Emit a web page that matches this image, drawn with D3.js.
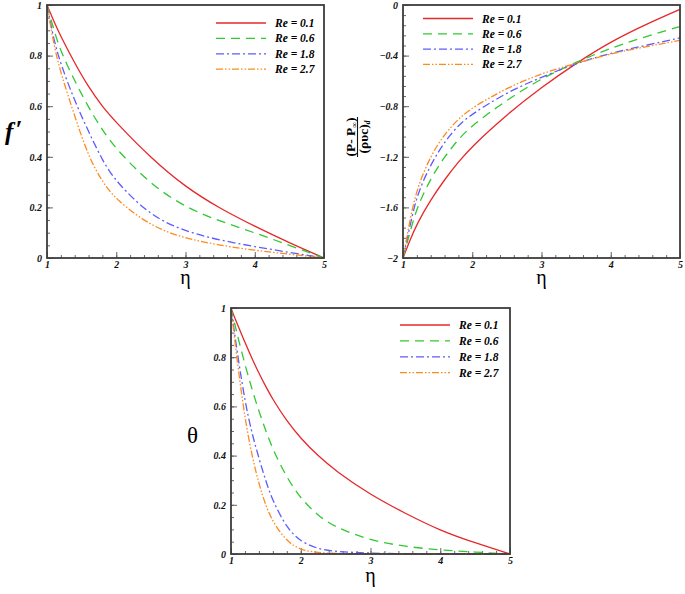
<!DOCTYPE html>
<html>
<head>
<meta charset="utf-8">
<script src="https://cdn.jsdelivr.net/npm/d3@7"></script>
<style>
  body { margin: 0; background: #fff; }
  .tick text { font-family: "Liberation Serif", serif; font-weight: bold; font-style: italic; font-size: 10px; fill: #111; }
  .tick line { stroke: #666; }
</style>
</head>
<body>
<div id="chart"></div>
<script>
// legend labels + styles
const reLabels = ["Re = 0.1", "Re = 0.6", "Re = 1.8", "Re = 2.7"];
const colors = ["#e6282b", "#30c930", "#5c5cff", "#ff8a1f"];
const dashes = [null, "9,6", "8,3,2,3", "7,2,1.5,2,1.5,2"];

// panel 1: f'
const etaF = [1, 1.1, 1.2, 1.4, 1.6, 1.8, 2, 2.5, 3, 3.5, 4, 4.5, 5];
const fRe01 = [1, 0.935, 0.875, 0.77, 0.675, 0.598, 0.535, 0.395, 0.28, 0.195, 0.125, 0.06, 0];
const fRe06 = [1, 0.9, 0.815, 0.7, 0.595, 0.505, 0.43, 0.29, 0.2, 0.145, 0.1, 0.05, 0];
const fRe18 = [1, 0.86, 0.765, 0.62, 0.5, 0.385, 0.3, 0.165, 0.105, 0.07, 0.045, 0.022, 0];
const fRe27 = [1, 0.84, 0.73, 0.56, 0.4, 0.3, 0.23, 0.125, 0.077, 0.05, 0.03, 0.015, 0];
const fTicks = [0, 0.2, 0.4, 0.6, 0.8, 1];

// panel 2: pressure
const etaP = [1, 1.1, 1.2, 1.4, 1.6, 1.8, 2, 2.5, 3, 3.5, 4, 4.5, 5];
const pRe01 = [-2, -1.86, -1.73, -1.54, -1.38, -1.24, -1.115, -0.865, -0.65, -0.46, -0.29, -0.155, -0.035];
const pRe06 = [-2, -1.8, -1.6, -1.37, -1.2, -1.06, -0.95, -0.75, -0.58, -0.45, -0.34, -0.25, -0.17];
const pRe18 = [-2, -1.75, -1.5, -1.26, -1.08, -0.95, -0.86, -0.69, -0.57, -0.46, -0.38, -0.32, -0.26];
const pRe27 = [-2, -1.7, -1.45, -1.19, -1.02, -0.9, -0.81, -0.655, -0.54, -0.46, -0.385, -0.33, -0.28];
const pTicks = [-2, -1.6, -1.2, -0.8, -0.4, 0];

// panel 3: theta
const etaT = [1, 1.05, 1.1, 1.2, 1.3, 1.4, 1.5, 1.6, 1.8, 2, 2.25, 2.5, 3, 3.5, 4, 4.5, 5];
const tRe01 = [1, 0.963, 0.928, 0.86, 0.795, 0.735, 0.68, 0.628, 0.54, 0.47, 0.398, 0.338, 0.24, 0.165, 0.095, 0.045, 0];
const tRe06 = [1, 0.94, 0.88, 0.77, 0.67, 0.58, 0.5, 0.425, 0.31, 0.225, 0.155, 0.108, 0.055, 0.03, 0.016, 0.008, 0];
const tRe18 = [1, 0.9, 0.8, 0.62, 0.49, 0.39, 0.295, 0.215, 0.105, 0.05, 0.02, 0.01, 0.003, 0.001, 0, 0, 0];
const tRe27 = [1, 0.88, 0.76, 0.55, 0.4, 0.285, 0.195, 0.13, 0.05, 0.016, 0.005, 0.002, 0, 0, 0, 0, 0];
const tTicks = [0, 0.2, 0.4, 0.6, 0.8, 1];

const etaTicks = [1, 2, 3, 4, 5];

const svg = d3.select("#chart").append("svg")
    .attr("width", 685)
    .attr("height", 594)
    .style("display", "block");

const serif = '"Liberation Serif", "Times New Roman", serif';

function drawPanel(p) {
    const x = d3.scaleLinear().domain([1, 5]).range([p.left, p.right]);
    const y = d3.scaleLinear().domain(p.ydom).range([p.bottom, p.top]);
    const g = svg.append("g");

    //minor ticks
    g.append("g")
        .attr("transform", `translate(0,${p.bottom})`)
        .call(d3.axisBottom(x).tickValues(d3.range(1, 5.001, 0.2)).tickSize(-3).tickFormat(""))
        .call(a => a.select(".domain").remove());
    g.append("g")
        .attr("transform", `translate(${p.left},0)`)
        .call(d3.axisLeft(y).tickValues(d3.range(p.ydom[0], p.ydom[1] + 0.001, p.minor)).tickSize(-3).tickFormat(""))
        .call(a => a.select(".domain").remove());

    //major ticks
    g.append("g")
        .attr("transform", `translate(0,${p.bottom})`)
        .call(d3.axisBottom(x).tickValues(etaTicks).tickSize(-6).tickPadding(3).tickFormat(d3.format("~g")))
        .call(a => a.select(".domain").remove());
    g.append("g")
        .attr("transform", `translate(${p.left},0)`)
        .call(d3.axisLeft(y).tickValues(p.yticks).tickSize(-6).tickPadding(5).tickFormat(d3.format("~g")))
        .call(a => a.select(".domain").remove());

    const line = d3.line()
        .x(d => x(d[0]))
        .y(d => y(d[1]))
        .curve(d3.curveBasis);

    p.series.forEach((s, i) => {
        g.append("path")
            .datum(p.eta.map((e, j) => [e, s[j]]))
            .attr("fill", "none")
            .attr("stroke", colors[i])
            .attr("stroke-width", 1.3)
            .attr("stroke-dasharray", dashes[i])
            .attr("d", line);
    });

    //frame
    g.append("rect")
        .attr("x", p.left)
        .attr("y", p.top)
        .attr("width", p.right - p.left)
        .attr("height", p.bottom - p.top)
        .attr("fill", "none")
        .attr("stroke", "#3c3c3c")
        .attr("stroke-width", 1.8);

    //legend
    const lg = g.append("g").attr("transform", `translate(${p.legend[0]},${p.legend[1]})`);
    reLabels.forEach((lab, i) => {
        lg.append("line")
            .attr("x1", 0).attr("x2", 50)
            .attr("y1", i * p.legendStep).attr("y2", i * p.legendStep)
            .attr("stroke", colors[i])
            .attr("stroke-width", 1.3)
            .attr("stroke-dasharray", dashes[i]);
        lg.append("text")
            .attr("x", 59)
            .attr("y", i * p.legendStep + 4)
            .attr("font-family", serif)
            .attr("font-weight", "bold")
            .attr("font-style", "italic")
            .attr("font-size", 11.5)
            .text(lab);
    });

    //x title
    g.append("text")
        .attr("x", (p.left + p.right) / 2)
        .attr("y", p.bottom + p.etaDy)
        .attr("text-anchor", "middle")
        .attr("font-family", serif)
        .attr("font-size", 20)
        .text("η");
    return g;
}

drawPanel({
    left: 47, right: 324, top: 5, bottom: 258, ydom: [0, 1], yticks: fTicks, minor: 0.05,
    eta: etaF, series: [fRe01, fRe06, fRe18, fRe27],
    legend: [216, 23], legendStep: 15.4, etaDy: 26
});
drawPanel({
    left: 403, right: 680, top: 5, bottom: 258, ydom: [-2, 0], yticks: pTicks, minor: 0.08,
    eta: etaP, series: [pRe01, pRe06, pRe18, pRe27],
    legend: [423, 18.5], legendStep: 15.3, etaDy: 26
});
drawPanel({
    left: 231, right: 510, top: 308, bottom: 554, ydom: [0, 1], yticks: tTicks, minor: 0.05,
    eta: etaT, series: [tRe01, tRe06, tRe18, tRe27],
    legend: [400, 325], legendStep: 15.9, etaDy: 28
});

// y titles
svg.append("text")
    .attr("x", 5).attr("y", 140)
    .attr("font-family", serif)
    .attr("font-weight", "bold")
    .attr("font-style", "italic")
    .attr("font-size", 25)
    .html('f<tspan dx="2" dy="-2">′</tspan>');

svg.append("text")
    .attr("x", 187).attr("y", 443)
    .attr("font-family", serif)
    .attr("font-size", 23)
    .text("θ");

// pressure label: rotated fraction
const frac = svg.append("g").attr("transform", "translate(357,137) rotate(-90)");
frac.append("text")
    .attr("x", 0).attr("y", -2)
    .attr("text-anchor", "middle")
    .attr("font-family", serif)
    .attr("font-weight", "bold")
    .attr("font-size", 13.5)
    .html('(P- P<tspan font-size="8" dy="2">∞</tspan><tspan dy="-2">)</tspan>');
frac.append("line")
    .attr("x1", -20).attr("x2", 20)
    .attr("y1", 0.5).attr("y2", 0.5)
    .attr("stroke", "#111")
    .attr("stroke-width", 1.1);
frac.append("text")
    .attr("x", 0).attr("y", 11)
    .attr("text-anchor", "middle")
    .attr("font-family", serif)
    .attr("font-weight", "bold")
    .attr("font-size", 13.5)
    .html('(ρυc)<tspan font-size="7.5" dy="2" font-style="italic">d</tspan>');
</script>
</body>
</html>
